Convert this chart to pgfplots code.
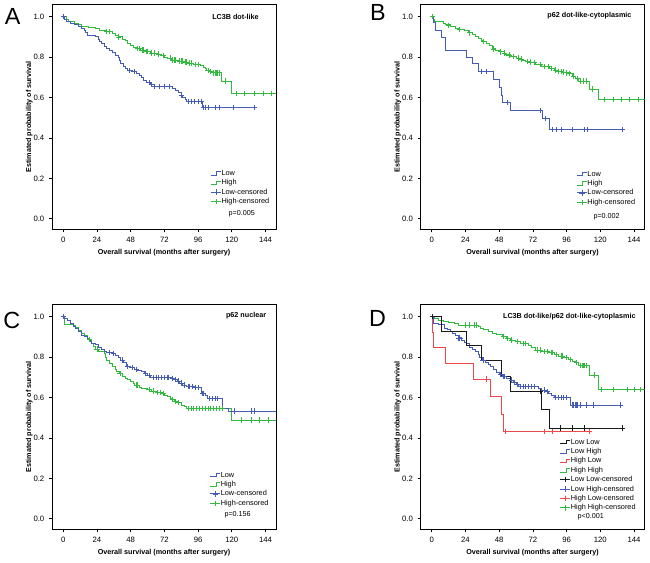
\documentclass[border=0pt]{standalone}
\usepackage{fontspec}
\setmainfont{Liberation Sans}
\usepackage{pgfplots}
\pgfplotsset{compat=1.18}
\definecolor{cblue}{RGB}{68,92,182}
\definecolor{cgreen}{RGB}{50,186,62}
\definecolor{cred}{RGB}{238,72,72}
\definecolor{cblack}{RGB}{25,25,25}
\pgfplotsset{
  km/.style={
    scale only axis, width=168pt, height=168.75pt,
    xmin=-8, xmax=151.5, ymin=-0.052, ymax=1.061,
    xtick={0,24,48,72,96,120,144}, ytick={0,0.2,0.4,0.6,0.8,1.0},
    tick align=outside, xtick pos=bottom, ytick pos=left,
    major tick length=2.25pt,
    tick style={black, line width=0.5pt},
    axis line style={black, line width=0.6pt},
    /pgf/number format/assume math mode=true,
    yticklabel style={/pgf/number format/fixed, /pgf/number format/fixed zerofill, /pgf/number format/precision=1},
    ticklabel style={font=\fontsize{5.8}{6.5}\selectfont},
    xlabel={Overall survival (months after surgery)},
    ylabel={Estimated probability of survival},
    label style={font=\fontsize{5.4}{6}\selectfont\bfseries},
    xlabel style={at={(axis description cs:0.5,-0.1022)}, anchor=center},
    ylabel style={at={(axis description cs:-0.1013,0.5)}, anchor=center},
    legend cell align=left,
    legend style={draw=none, fill=none, anchor=north west, inner sep=0pt, outer sep=0pt,
      font=\fontsize{5.5}{6}\selectfont, row sep=2.05pt,
      nodes={inner sep=0pt, text height=4pt, text depth=1pt},
      /tikz/every even column/.append style={column sep=1.5pt}},
  },
  step/.style={const plot mark left, line width=0.6pt, mark=none},
  cens/.style={only marks, mark=+, mark size=2pt, mark options={line width=0.55pt}},
  stepicon/.style={legend image code/.code={\draw[##1,mark=none,line width=0.6pt] (0pt,-1.3pt) -- (4.2pt,-1.3pt) -- (4.2pt,1.2pt) -- (7.5pt,1.2pt);}},
  censicon/.style={legend image code/.code={\draw[##1,mark=none,line width=0.6pt] (0pt,0pt) -- (7.5pt,0pt); \draw[##1,line width=0.55pt] plot coordinates {(3.75pt,0pt)};}},
}
\tikzset{
  ptitle/.style={font=\fontsize{5.4}{6}\selectfont\bfseries, anchor=east, inner sep=0pt},
  pval/.style={font=\fontsize{5.4}{6}\selectfont, anchor=west, inner sep=0pt},
}
\begin{document}
\begin{tikzpicture}
\useasboundingbox (0,0) rectangle (487.5pt,421.5pt);
% ---------------- A ----------------
\begin{axis}[km, at={(39pt,249.5pt)}, anchor=south west,
  legend style={at={(rel axis cs:0.7085,0.2636)}}]
\addlegendimage{cblue, stepicon}\addlegendentry{Low}
\addlegendimage{cgreen, stepicon}\addlegendentry{High}
\addlegendimage{cblue, mark=+, mark size=2pt, censicon}\addlegendentry{Low-censored}
\addlegendimage{cgreen, mark=+, mark size=2pt, censicon}\addlegendentry{High-censored}
\addplot[step, cgreen] coordinates {(0,1.0)(2,0.985)(4,0.975)(8,0.968)(11,0.960)(13,0.954)(18,0.948)(23,0.940)(26,0.934)(30,0.926)(35,0.918)(37,0.908)(39,0.900)(42,0.890)(44,0.882)(46,0.870)(48,0.860)(50,0.850)(52,0.842)(55,0.835)(58,0.827)(62,0.820)(67,0.815)(70,0.808)(72,0.800)(74,0.795)(77,0.786)(82,0.780)(86,0.775)(89,0.770)(93,0.765)(98,0.758)(100,0.750)(101,0.742)(102,0.735)(104,0.728)(106,0.722)(112.6,0.682)(119.8,0.621)(151.5,0.621)};
\addplot[step, cblue] coordinates {(0,1.0)(1,0.985)(2,0.975)(5,0.968)(8,0.960)(11,0.952)(13,0.944)(15,0.934)(16,0.920)(17,0.909)(20,0.905)(23,0.900)(25,0.890)(26,0.878)(27,0.868)(29,0.855)(31,0.845)(33,0.835)(35,0.822)(37,0.810)(39,0.800)(40,0.785)(41,0.770)(43,0.755)(44,0.745)(46,0.735)(49,0.728)(52,0.720)(54,0.710)(56,0.700)(57,0.685)(59,0.675)(62,0.665)(63,0.655)(78,0.645)(80,0.635)(82,0.625)(84,0.612)(85,0.600)(87,0.590)(88,0.580)(99,0.550)(136,0.550)};
\addplot[cens, cblue] coordinates {(0.3,1.0)(47.4,0.735)(50.3,0.728)(61,0.675)(62.9,0.665)(65.2,0.655)(68.8,0.655)(72.3,0.655)(75.9,0.655)(84.2,0.612)(89,0.58)(91.3,0.58)(93.7,0.58)(96,0.58)(98.4,0.58)(100,0.55)(101.5,0.55)(103,0.55)(108,0.55)(111.4,0.55)(121,0.55)(135.8,0.55)};
\addplot[cens, cgreen] coordinates {(31,0.926)(33,0.926)(39.5,0.90)(53,0.842)(54,0.842)(56,0.835)(57,0.835)(59,0.827)(60,0.827)(63,0.82)(65,0.82)(68,0.815)(71,0.808)(76,0.795)(78,0.786)(79,0.786)(80,0.786)(83,0.78)(84,0.78)(85,0.78)(87,0.775)(88,0.775)(90,0.77)(91,0.77)(94,0.765)(96,0.765)(103,0.735)(105,0.728)(107,0.722)(108,0.722)(109,0.722)(110,0.722)(111,0.722)(115.8,0.682)(123.3,0.621)(129.2,0.621)(136.3,0.621)(142.2,0.621)(148.2,0.621)};
\node[ptitle] at (rel axis cs:0.924,0.945) {LC3B dot-like};
\node[pval] at (rel axis cs:0.787,0.069) {p=0.005};
\end{axis}
% ---------------- B ----------------
\begin{axis}[km, at={(315.4pt,249.5pt)}, anchor=south west,
  legend style={at={(rel axis cs:0.697,0.2604)}}]
\addlegendimage{cblue, stepicon}\addlegendentry{Low}
\addlegendimage{cgreen, stepicon}\addlegendentry{High}
\addlegendimage{cblue, mark=+, mark size=2pt, censicon}\addlegendentry{Low-censored}
\addlegendimage{cgreen, mark=+, mark size=2pt, censicon}\addlegendentry{High-censored}
\addplot[step, cgreen] coordinates {(0,1.0)(1,0.985)(2,0.975)(8,0.967)(10,0.960)(13,0.950)(17,0.944)(20,0.937)(23,0.930)(26,0.920)(29,0.910)(31,0.900)(33,0.893)(35,0.885)(37,0.876)(39,0.866)(41,0.857)(43,0.845)(45,0.832)(48,0.826)(52,0.815)(56,0.803)(60,0.795)(64,0.785)(67,0.777)(70,0.773)(74,0.765)(78,0.755)(81,0.752)(84,0.745)(87,0.736)(90,0.730)(94,0.726)(98.8,0.718)(100,0.706)(102,0.695)(104.7,0.682)(111.9,0.642)(119,0.591)(151.5,0.591)};
\addplot[step, cblue] coordinates {(0,1.0)(1.2,0.970)(2.4,0.934)(7.1,0.898)(9.5,0.832)(25,0.799)(28.6,0.767)(33.3,0.728)(44,0.690)(48.5,0.650)(49.5,0.612)(50.5,0.575)(55.9,0.535)(78.6,0.497)(83.8,0.442)(135.7,0.442)};
\addplot[cens, cblue] coordinates {(35.6,0.728)(38.7,0.728)(53.6,0.575)(77.4,0.535)(81,0.497)(85.7,0.442)(88.6,0.442)(92.1,0.442)(100,0.442)(108.3,0.442)(110.7,0.442)(135.7,0.442)};
\addplot[cens, cgreen] coordinates {(0.3,1.0)(12,0.955)(20,0.937)(27,0.920)(37,0.876)(44,0.840)(49,0.826)(52,0.820)(55,0.810)(58,0.803)(62,0.795)(64,0.790)(68,0.777)(70,0.775)(73,0.773)(77,0.765)(80,0.755)(83,0.752)(85,0.745)(88,0.736)(90,0.730)(92,0.728)(94,0.726)(96,0.722)(98,0.720)(101,0.706)(104,0.695)(106,0.682)(108,0.682)(110,0.682)(114,0.642)(123,0.591)(129,0.591)(135,0.591)(141,0.591)(147,0.591)};
\node[ptitle] at (rel axis cs:0.943,0.948) {p62 dot-like-cytoplasmic};
\node[pval] at (rel axis cs:0.771,0.056) {p=0.002};
\end{axis}
% ---------------- C ----------------
\begin{axis}[km, at={(39pt,24.5pt)}, anchor=south west,
  legend style={at={(rel axis cs:0.7054,0.256)}}]
\addlegendimage{cblue, stepicon}\addlegendentry{Low}
\addlegendimage{cgreen, stepicon}\addlegendentry{High}
\addlegendimage{cblue, mark=+, mark size=2pt, censicon}\addlegendentry{Low-censored}
\addlegendimage{cgreen, mark=+, mark size=2pt, censicon}\addlegendentry{High-censored}
\addplot[step, cgreen] coordinates {(0,1.0)(1,0.964)(7,0.955)(9,0.945)(11,0.930)(13,0.918)(15,0.905)(17,0.892)(18,0.888)(20,0.870)(21.5,0.851)(23,0.840)(25,0.827)(29,0.818)(30,0.800)(31,0.785)(33,0.770)(35,0.755)(37,0.740)(38,0.730)(40,0.720)(42,0.705)(44,0.695)(46,0.688)(48,0.680)(50,0.670)(51,0.662)(54,0.652)(56,0.646)(60,0.640)(63,0.632)(66,0.625)(70,0.620)(72,0.612)(74,0.605)(76,0.598)(77,0.591)(79,0.582)(81,0.575)(84,0.563)(86,0.555)(88,0.546)(119.8,0.489)(151.5,0.489)};
\addplot[step, cblue] coordinates {(0,1.0)(1,0.990)(3,0.980)(5,0.965)(7,0.950)(9,0.940)(11,0.925)(13,0.909)(15,0.900)(17,0.890)(19,0.878)(20,0.868)(23,0.862)(25,0.850)(27,0.840)(29,0.830)(31,0.822)(35,0.818)(37,0.810)(39,0.800)(41,0.786)(43,0.772)(45,0.755)(48,0.748)(51,0.740)(53,0.736)(56,0.728)(58,0.720)(60,0.710)(62,0.700)(77,0.695)(79,0.688)(81,0.682)(83,0.672)(85,0.662)(88,0.656)(93,0.649)(98.4,0.621)(101,0.610)(103,0.596)(113.4,0.546)(117.4,0.533)(151.5,0.533)};
\addplot[cens, cblue] coordinates {(0.3,1.0)(33,0.822)(36,0.818)(42,0.786)(46,0.755)(49,0.748)(52,0.740)(58.5,0.720)(61,0.710)(64,0.700)(66,0.700)(68,0.700)(70,0.700)(72,0.700)(74,0.700)(75,0.700)(78,0.695)(80,0.688)(82,0.682)(84,0.672)(86,0.662)(89,0.656)(90,0.656)(92,0.656)(94,0.649)(96,0.649)(99,0.621)(100,0.621)(104,0.596)(106,0.596)(108,0.596)(110,0.596)(122,0.533)(134,0.533)(136.3,0.533)};
\addplot[cens, cgreen] coordinates {(18.5,0.888)(24,0.840)(40.5,0.720)(52,0.662)(53,0.662)(61,0.640)(64,0.632)(67,0.625)(69,0.625)(71,0.620)(78,0.591)(80,0.582)(82,0.575)(89,0.546)(91,0.546)(93,0.546)(95,0.546)(97,0.546)(99,0.546)(101,0.546)(103,0.546)(105,0.546)(107,0.546)(109,0.546)(111,0.546)(113,0.546)(127,0.489)(134,0.489)(140,0.489)(146,0.489)};
\node[ptitle] at (rel axis cs:0.957,0.948) {p62 nuclear};
\node[pval] at (rel axis cs:0.769,0.064) {p=0.156};
\end{axis}
% ---------------- D ----------------
\begin{axis}[km, at={(315.4pt,24.5pt)}, anchor=south west,
  legend style={at={(rel axis cs:0.6228,0.4027)}}]
\addlegendimage{cblack, stepicon}\addlegendentry{Low Low}
\addlegendimage{cblue, stepicon}\addlegendentry{Low High}
\addlegendimage{cred, stepicon}\addlegendentry{High Low}
\addlegendimage{cgreen, stepicon}\addlegendentry{High High}
\addlegendimage{cblack, mark=+, mark size=2pt, censicon}\addlegendentry{Low Low-censored}
\addlegendimage{cblue, mark=+, mark size=2pt, censicon}\addlegendentry{Low High-censored}
\addlegendimage{cred, mark=+, mark size=2pt, censicon}\addlegendentry{High Low-censored}
\addlegendimage{cgreen, mark=+, mark size=2pt, censicon}\addlegendentry{High High-censored}
\addplot[step, cgreen] coordinates {(0,1.0)(2,0.990)(5,0.983)(8,0.975)(12,0.970)(16,0.965)(19,0.959)(33,0.951)(34.5,0.943)(37,0.935)(40,0.926)(43,0.918)(46,0.910)(50,0.901)(53,0.893)(56,0.885)(59.5,0.876)(63,0.868)(69,0.860)(71,0.850)(73.8,0.835)(78,0.828)(83.3,0.822)(87,0.814)(90.4,0.805)(94,0.797)(97.6,0.789)(100,0.781)(102,0.773)(104.7,0.757)(111.9,0.711)(119,0.640)(151.5,0.640)};
\addplot[step, cblue] coordinates {(0,1.0)(1,0.967)(5,0.960)(9,0.943)(11,0.935)(13,0.925)(15,0.915)(17,0.905)(19,0.895)(21,0.885)(23,0.875)(25,0.866)(27,0.850)(29,0.840)(31,0.827)(33,0.815)(34,0.800)(36,0.786)(38,0.775)(40,0.765)(42,0.752)(44,0.740)(46,0.725)(48,0.715)(50,0.705)(53,0.697)(56,0.687)(58,0.675)(60,0.664)(62,0.653)(76,0.645)(78,0.637)(81,0.629)(83,0.620)(85,0.610)(87,0.601)(98.8,0.563)(134.5,0.563)};
\addplot[step, cblack] coordinates {(0,1.0)(6.6,0.929)(25,0.857)(35.5,0.786)(49.5,0.707)(55.9,0.629)(78.1,0.539)(83.8,0.449)(135.7,0.449)};
\addplot[step, cred] coordinates {(0,1.0)(0.8,0.923)(1.5,0.846)(9.5,0.769)(29.3,0.692)(42.1,0.606)(49.3,0.519)(51.2,0.433)(111.9,0.433)};
\addplot[cens, cblack] coordinates {(0.3,1.0)(36.9,0.786)(77,0.629)(91.6,0.449)(100,0.449)(109,0.449)(135.7,0.449)};
\addplot[cens, cblue] coordinates {(19,0.895)(20,0.895)(36.5,0.786)(49,0.715)(51,0.705)(52,0.705)(57,0.687)(59,0.675)(61,0.664)(63,0.653)(65,0.653)(67,0.653)(69,0.653)(71,0.653)(73,0.653)(80,0.637)(82,0.629)(88,0.601)(90,0.601)(92,0.601)(94,0.601)(96,0.601)(100,0.563)(101,0.563)(102,0.563)(103,0.563)(104,0.563)(106,0.563)(110,0.563)(115,0.563)(134.5,0.563)};
\addplot[cens, cred] coordinates {(38.6,0.692)(52.6,0.433)(80.4,0.433)(85.7,0.433)(111.9,0.433)};
\addplot[cens, cgreen] coordinates {(24,0.959)(27,0.959)(30,0.959)(32,0.959)(51,0.901)(54,0.893)(57,0.885)(61,0.876)(65,0.868)(67,0.868)(75,0.835)(77,0.835)(80,0.828)(82,0.828)(85,0.822)(86,0.822)(89,0.814)(92,0.805)(93,0.805)(96,0.797)(99,0.789)(103,0.773)(106,0.757)(107,0.757)(108,0.757)(109,0.757)(110,0.757)(115.5,0.711)(121,0.640)(129.5,0.640)(139,0.640)(144,0.640)(148.8,0.640)};
\node[ptitle] at (rel axis cs:0.961,0.945) {LC3B dot-like/p62 dot-like-cytoplasmic};
\node[pval] at (rel axis cs:0.70,0.056) {p<0.001};
\end{axis}
% panel letters
\node[font=\fontsize{17.5}{18}\selectfont, inner sep=0pt] at (9.4pt,409.5pt) {A};
\node[font=\fontsize{17.5}{18}\selectfont, inner sep=0pt] at (283.5pt,412.1pt) {B};
\node[font=\fontsize{17.5}{18}\selectfont, inner sep=0pt] at (8.8pt,181.1pt) {C};
\node[font=\fontsize{17.5}{18}\selectfont, inner sep=0pt] at (283.1pt,182.3pt) {D};
\end{tikzpicture}
\end{document}
